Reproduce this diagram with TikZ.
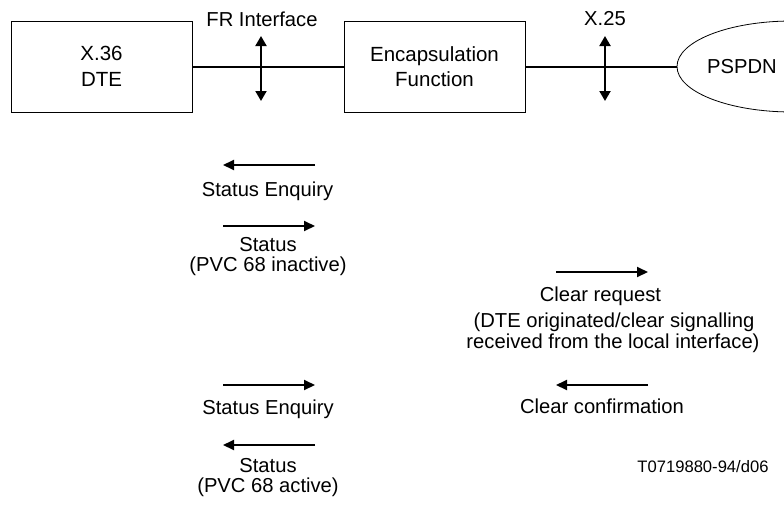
\documentclass[tikz,border=0pt]{standalone}
\usepackage{fontspec}
\setmainfont{Liberation Sans}
\usetikzlibrary{arrows.meta,shapes.geometric}
\begin{document}
\begin{tikzpicture}[x=1pt,y=-1pt,
  every node/.style={font=\fontsize{20.2}{24}\selectfont, inner sep=0pt},
  boxnode/.style={draw, line width=1pt, minimum width=181pt, minimum height=91pt, align=center, font=\fontsize{20.5}{25.5}\selectfont},
  link/.style={line width=2pt},
  msg/.style={line width=2pt, -{Triangle[width=10pt,length=11pt]}},
  iface/.style={line width=2pt, {Triangle[width=11pt,length=10pt]}-{Triangle[width=11pt,length=10pt]}},
  txt/.style={anchor=base}]
\useasboundingbox (0,0) rectangle (784,506);
\node[boxnode] (dte) at (101.5,66.5) {X.36\\DTE};
\node[boxnode] (enc) at (434.5,66.5) {Encapsulation\\Function};
\begin{scope}
\clip (0,0) rectangle (784,506);
\node[draw, ellipse, line width=0.8pt, minimum width=230pt, minimum height=91pt] (net) at (792,66.5) {};
\end{scope}
\node (netlbl) at (742,66.5) {PSPDN};
\draw[link] (dte.east) -- (enc.west);
\draw[link] (enc.east) -- (net.west);
\coordinate (fr1) at (261,36);
\coordinate (fr2) at (261,101);
\draw[iface] (fr1) -- (fr2);
\node (frl) at (262,19) {FR Interface};
\coordinate (x1) at (605,36);
\coordinate (x2) at (605,101);
\draw[iface] (x1) -- (x2);
\node (xl) at (605,19) {X.25};
% left upper
\coordinate (a1r) at (315,165); \coordinate (a1l) at (223,165);
\draw[msg] (a1r) -- (a1l);
\node[txt] (t1) at (267.5,196) {Status Enquiry};
\coordinate (a2l) at (223,226); \coordinate (a2r) at (315,226);
\draw[msg] (a2l) -- (a2r);
\node[txt] (t2) at (268,251) {Status};
\node[txt] (t3) at (268,271.5) {(PVC 68 inactive)};
% left lower
\coordinate (a3l) at (223,385); \coordinate (a3r) at (315,385);
\draw[msg] (a3l) -- (a3r);
\node[txt] (t4) at (268,414) {Status Enquiry};
\coordinate (a4r) at (315,445); \coordinate (a4l) at (223,445);
\draw[msg] (a4r) -- (a4l);
\node[txt] (t5) at (268,472) {Status};
\node[txt] (t6) at (268,492.5) {(PVC 68 active)};
% right
\coordinate (b1l) at (556,272); \coordinate (b1r) at (648,272);
\draw[msg] (b1l) -- (b1r);
\node[txt] (u1) at (600.5,301) {Clear request};
\node[txt] (u2) at (614,327.5) {(DTE originated/clear signalling};
\node[txt] (u3) at (613,348.5) {received from the local interface)};
\coordinate (b2r) at (648,385); \coordinate (b2l) at (556,385);
\draw[msg] (b2r) -- (b2l);
\node[txt] (u4) at (602,413) {Clear confirmation};
\node[txt, font=\fontsize{16.6}{19}\selectfont] (ref) at (703,472) {T0719880-94/d06};
\end{tikzpicture}
\end{document}
